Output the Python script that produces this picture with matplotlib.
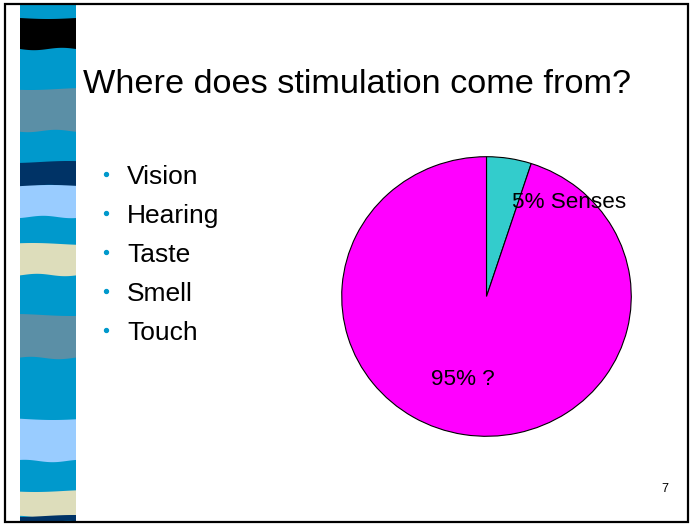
import numpy as np
import matplotlib
matplotlib.use("Agg")
import matplotlib.pyplot as plt
from matplotlib.patches import Rectangle, Polygon

plt.rcParams["font.family"] = ["Liberation Sans", "DejaVu Sans"]

################################################################
##### slide content

TITLE = "Where does stimulation come from?"
BULLETS = ["Vision", "Hearing", "Taste", "Smell", "Touch"]

PIE_LABELS = ["Senses", "?"]
PIE_VALUES = [5, 95]
PIE_COLORS = ["#33CCCC", "#FF00FF"]

PAGE_NUMBER = "7"

# decorative strip on the left: (color, top, bottom) in pixels
STRIP_BANDS = [
    ("#000000", 18, 49),
    ("#5B8FA6", 89, 131),
    ("#003366", 162, 186),
    ("#99CCFF", 186, 217),
    ("#DDDDBB", 244, 275),
    ("#5B8FA6", 315, 358),
    ("#99CCFF", 419, 461),
    ("#DDDDBB", 491, 517),
    ("#003366", 516, 522),
]
STRIP_BLUE = "#0099CC"

################################################################

W, H = 691, 525
fig = plt.figure(figsize=(W / 100, H / 100), dpi=100)
bg = fig.add_axes([0, 0, 1, 1])
bg.set_xlim(0, W)
bg.set_ylim(H, 0)
bg.axis("off")

# slide frame
bg.add_patch(Rectangle((5, 4), 683, 518, fill=False, lw=1.6, ec="black", zorder=5))

# left strip with gently wavy bands
x0, x1 = 20, 76
bg.add_patch(Rectangle((x0, 5), x1 - x0, 517, color=STRIP_BLUE, lw=0, zorder=1))
xs = np.linspace(x0, x1, 40)
t = (xs - x0) / (x1 - x0)
for idx, (col, top, bot) in enumerate(STRIP_BANDS):
    wave_top = top + 1.0 * np.sin(np.pi * t + idx)
    wave_bot = bot + 1.2 * np.sin(2 * np.pi * t + idx * 0.7)
    pts = np.column_stack([np.r_[xs, xs[::-1]], np.r_[wave_top, wave_bot[::-1]]])
    pts[:, 1] = np.clip(pts[:, 1], 5, 522)
    bg.add_patch(Polygon(pts, closed=True, color=col, lw=0, zorder=2))

# title
bg.text(83, 93, TITLE, fontsize=24.7, va="baseline", ha="left")

# bullet list
for i, item in enumerate(BULLETS):
    yb = 184 + i * 39.1
    bg.scatter([106], [yb - 10], s=8, color=STRIP_BLUE, zorder=3)
    bg.text(127, yb, item, fontsize=19, va="baseline", ha="left")

# page number
bg.text(665, 489, PAGE_NUMBER, fontsize=9, va="center", ha="center")

# pie
pax = fig.add_axes([341 / W, (H - 437) / H, 291 / W, 281 / H])
pax.pie(
    PIE_VALUES,
    colors=PIE_COLORS,
    startangle=90,
    counterclock=False,
    wedgeprops={"edgecolor": "black", "linewidth": 0.8},
)
pax.set_aspect("auto")
pax.set_xlim(-1.005, 1.005)
pax.set_ylim(-1.005, 1.005)

label_pos = [(0.574, 0.673), (-0.16, -0.594)]
for (lx, ly), val, lab in zip(label_pos, PIE_VALUES, PIE_LABELS):
    pax.text(lx, ly, f"{val}% {lab}", fontsize=16.2, ha="center", va="center")

fig.savefig("out.png", dpi=100)
